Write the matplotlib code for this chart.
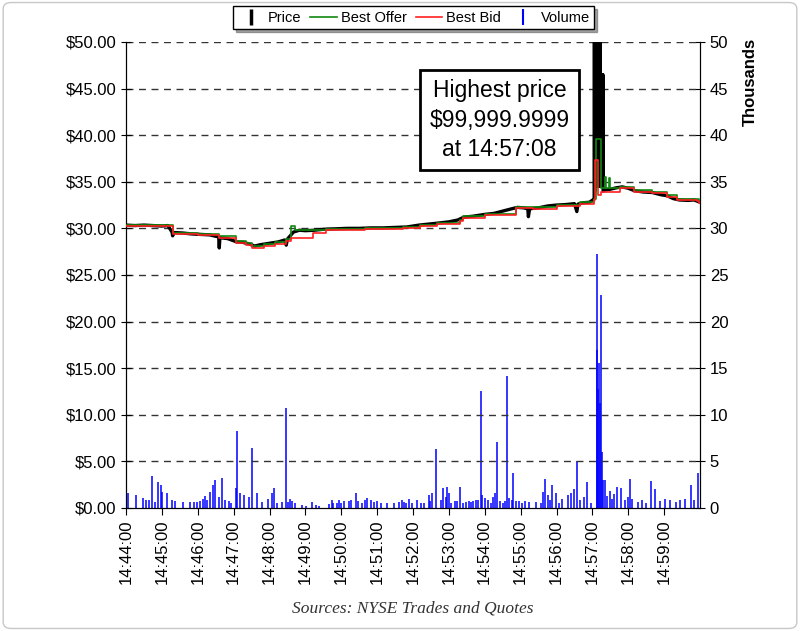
import numpy as np
import matplotlib.pyplot as plt
from matplotlib.lines import Line2D
from matplotlib.patches import FancyBboxPatch

plt.rcParams['font.family'] = ['Liberation Sans', 'DejaVu Sans']

# seconds after 14:44:00
quote_times = [0, 40, 78, 120, 156, 184, 200, 211, 230, 250, 268, 276, 283, 312, 335, 400,
               463, 491, 520, 558, 563, 600, 653, 681, 720, 760, 782, 786, 795, 801, 803,
               808, 810, 826, 849, 880, 905, 921, 955, 958, 960]
best_offer = [30.40, 30.35, 29.55, 29.40, 29.15, 28.65, 28.45, 28.15, 28.35, 28.55, 28.85, 30.20,
              29.85, 29.85, 29.95, 30.05, 30.15, 30.40, 30.60, 30.95, 31.30, 31.55, 32.30, 32.25,
              32.55, 32.80, 33.20, 39.60, 34.30, 35.50, 34.30, 35.40, 34.30, 34.45, 34.10, 33.90,
              33.55, 33.15, 33.10, 32.95, 32.95]
bid_times = [0, 40, 78, 120, 156, 184, 200, 211, 230, 250, 268, 276, 283, 312, 335, 400, 463,
             491, 520, 558, 563, 600, 653, 681, 720, 760, 782, 784, 789, 795, 826, 849, 880,
             905, 921, 955, 958, 960]
best_bid = [30.25, 30.20, 29.40, 29.25, 29.00, 28.45, 28.25, 27.90, 28.15, 28.35, 28.60, 28.95,
            28.95, 29.55, 29.85, 29.95, 30.00, 30.25, 30.45, 30.80, 31.10, 31.40, 32.15, 32.10,
            32.40, 32.65, 33.00, 37.30, 33.60, 33.85, 34.30, 33.95, 33.75, 33.40, 33.00, 32.90,
            32.70, 32.70]

trade_times = [0, 15, 30, 45, 60, 70, 77, 78, 80, 95, 110, 125, 140, 150, 155, 156, 157, 170,
               185, 195, 205, 215, 225, 240, 255, 265, 268, 270, 280, 290, 300, 315, 330, 350,
               370, 390, 410, 430, 450, 470, 490, 505, 520, 540, 555, 565, 580, 600, 615, 630,
               645, 655, 665, 672, 673, 675, 690, 705, 720, 735, 750, 754, 756, 765, 775, 782,
               783, 783.5, 784, 784.5, 785, 785.5, 786, 786.5, 787, 787.5, 788, 788.5, 789,
               789.5, 790, 790.5, 791, 791.5, 792, 792.5, 793, 793.5, 794, 794.5, 795, 795.5,
               796, 796.5, 797, 797.5, 798,
               800, 810, 820, 830, 840, 850, 865, 880, 895, 905, 915, 925, 940, 950, 958]
trade_price = [30.35, 30.30, 30.35, 30.30, 30.25, 30.30, 29.60, 29.20, 29.55, 29.50, 29.40,
               29.35, 29.30, 29.15, 29.10, 27.90, 29.00, 28.90, 28.55, 28.50, 28.35, 28.10,
               28.25, 28.40, 28.55, 28.75, 28.20, 28.85, 29.60, 29.80, 29.75, 29.80, 29.90,
               29.95, 30.00, 30.00, 30.05, 30.05, 30.10, 30.15, 30.35, 30.45, 30.55, 30.70,
               30.90, 31.20, 31.30, 31.50, 31.60, 31.85, 32.10, 32.25, 32.20, 32.10, 31.25,
               32.10, 32.20, 32.40, 32.50, 32.55, 32.65, 31.80, 32.60, 32.75, 32.80, 33.10,
               33.20, 99999.9999, 34.00, 99999.9999, 35.00, 99999.9999, 36.00, 99999.9999,
               35.00, 99999.9999, 34.50, 99999.9999, 35.00, 99999.9999, 36.00, 99999.9999,
               35.00, 99999.9999, 34.50, 99999.9999, 36.00, 46.50, 34.50, 46.50, 35.00, 46.50,
               34.50, 46.50, 35.00, 46.50, 34.00,
               34.10, 34.20, 34.35, 34.45, 34.30, 34.05, 33.90, 33.85, 33.60, 33.50, 33.20,
               33.05, 33.00, 33.05, 32.85]

# volume in thousands
vol_times = [4, 17, 29, 34, 39, 44, 49, 54, 59, 61, 68, 77, 82, 96, 107, 113, 118, 124, 128,
             132, 135, 141, 145, 149, 155, 160, 166, 173, 176, 184, 186, 191, 197, 206, 211,
             219, 227, 238, 244, 247, 253, 261, 268, 271, 275, 278, 283, 294, 301, 311, 317,
             322, 339, 344, 347, 353, 356, 360, 364, 373, 377, 384, 388, 394, 399, 403, 409,
             414, 420, 426, 437, 448, 456, 462, 465, 469, 474, 479, 487, 494, 498, 506, 508,
             512, 519, 526, 530, 535, 537, 540, 543, 550, 553, 559, 563, 569, 573, 577, 580,
             585, 589, 593, 596, 601, 605, 610, 613, 617, 620, 625, 630, 634, 638, 641, 645,
             648, 652, 658, 663, 668, 674, 686, 694, 697, 701, 705, 709, 712, 719, 724, 730,
             739, 744, 750, 754, 759, 766, 771, 778, 787, 788, 789, 791, 792, 794, 796, 798,
             801, 804, 810, 813, 816, 822, 828, 835, 840, 843, 846, 856, 863, 870, 878, 884,
             893, 902, 910, 920, 927, 935, 945, 950, 956]
volume = [1.6, 1.4, 1.1, 0.8, 0.9, 3.4, 0.6, 2.8, 2.5, 1.7, 1.6, 0.9, 0.7, 0.6, 0.6, 0.6, 0.6,
          0.7, 1.0, 1.3, 0.9, 1.7, 2.5, 3.0, 1.2, 3.2, 0.9, 0.7, 0.5, 2.1, 8.3, 1.6, 1.4, 1.2,
          6.4, 1.6, 0.6, 1.0, 1.6, 2.1, 0.5, 0.6, 10.7, 0.6, 1.0, 0.7, 0.5, 0.3, 0.2, 0.6, 0.3,
          0.2, 0.4, 0.9, 0.5, 0.5, 0.9, 0.5, 0.7, 0.7, 0.9, 1.6, 0.7, 0.5, 0.8, 1.1, 0.9, 0.6,
          0.7, 0.5, 0.5, 0.5, 0.6, 0.9, 0.6, 0.5, 1.0, 0.5, 0.8, 0.5, 0.5, 1.4, 0.7, 1.6, 6.3,
          0.9, 2.1, 1.2, 2.3, 1.6, 0.5, 0.7, 0.7, 2.2, 0.5, 0.6, 0.7, 0.6, 0.7, 0.9, 0.8, 12.5,
          1.4, 1.1, 0.9, 0.5, 1.2, 1.6, 7.05, 0.7, 0.5, 0.7, 14.2, 1.1, 0.9, 3.8, 0.7, 0.7,
          0.5, 0.7, 0.6, 0.6, 0.5, 1.7, 3.1, 1.4, 0.9, 2.5, 1.6, 0.5, 1.0, 1.4, 1.6, 2.0, 5.0,
          0.8, 1.2, 2.75, 0.5, 27.3, 17.0, 12.8, 15.5, 11.3, 22.9, 6.0, 3.0, 3.0, 1.3, 1.8,
          1.0, 1.5, 2.25, 2.1, 0.8, 1.2, 3.1, 1.0, 0.6, 0.8, 0.5, 2.9, 2.0, 0.7, 1.0, 0.8,
          0.6, 0.9, 1.0, 2.5, 0.8, 3.7]

tick_labels = ['14:%02d:00' % m for m in range(44, 60)]

fig = plt.figure(figsize=(8, 6.31), dpi=100)
ax = fig.add_axes([0.1575, 0.195, 0.7175, 0.7385])
ax2 = ax.twinx()
ax.set_zorder(ax2.get_zorder() + 1)
ax.patch.set_visible(False)

ax2.vlines(vol_times, 0, volume, color='#0000ff', linewidth=1.1)
ax.plot(trade_times, trade_price, color='black', linewidth=2.4, zorder=2)
ax.step(quote_times, best_offer, where='post', color='#118811', linewidth=1.2, zorder=3)
ax.step(bid_times, best_bid, where='post', color='#ff2020', linewidth=1.2, zorder=4)

ax.set_xlim(0, 960)
ax.set_ylim(0, 50)
ax2.set_ylim(0, 50)
ax.set_yticks(np.arange(0, 51, 5))
ax.set_yticklabels(['$%.2f' % v for v in np.arange(0, 51, 5)], fontsize=12)
ax2.set_yticks(np.arange(0, 51, 5))
ax2.set_yticklabels([str(v) for v in range(0, 51, 5)], fontsize=12)
ax2.set_ylabel('Thousands', fontsize=12, fontweight='bold')
ax2.yaxis.set_label_coords(1.075, 0.915)
ax.set_xticks(np.arange(0, 901, 60))
ax.set_xticklabels(tick_labels, rotation=90, fontsize=12)

for v in np.arange(5, 51, 5):
    ax.axhline(v, color='#333333', linestyle=(0, (5, 4)), linewidth=1.0, zorder=1)

for a in (ax, ax2):
    a.spines['top'].set_visible(False)
ax.tick_params(axis='y', direction='inout', length=7)
ax2.tick_params(axis='y', direction='inout', length=7)
ax.tick_params(axis='x', direction='out', length=5)

ax.text(625, 41.6, 'Highest price\n$99,999.9999\nat 14:57:08', ha='center', va='center',
        fontsize=16.5, linespacing=1.35, zorder=6,
        bbox=dict(boxstyle='square,pad=0.4', facecolor='white', edgecolor='black', linewidth=2))

handles = [
    Line2D([], [], color='black', marker='|', linestyle='None', markersize=12, markeredgewidth=2.5),
    Line2D([], [], color='#118811', linewidth=1.2),
    Line2D([], [], color='#ff2020', linewidth=1.2),
    Line2D([], [], color='#0000ff', marker='|', linestyle='None', markersize=12, markeredgewidth=1.5),
]
leg = fig.legend(handles, ['Price', 'Best Offer', 'Best Bid', 'Volume'], loc='center',
                 bbox_to_anchor=(0.517, 0.972), ncol=4, fontsize=10.5, frameon=True,
                 fancybox=False, edgecolor='black', handlelength=1.8, handletextpad=0.3,
                 columnspacing=0.6, borderpad=0.3, shadow=True)
leg.get_frame().set_linewidth(1.0)

fig.text(0.516, 0.036, 'Sources: NYSE Trades and Quotes', ha='center', va='center',
         fontsize=12.5, style='italic', family='Liberation Serif', color='#333333')

fig.patches.append(FancyBboxPatch((0.004, 0.004), 0.992, 0.992, boxstyle='round,pad=0,rounding_size=0.01',
                                  transform=fig.transFigure, facecolor='none',
                                  edgecolor='#c8c8c8', linewidth=1.0))

fig.savefig('out.png', dpi=100)
